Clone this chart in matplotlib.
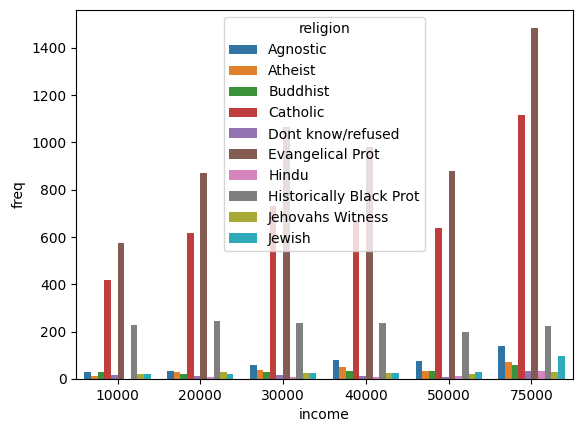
import pandas as pd
import matplotlib
matplotlib.use("Agg")
import matplotlib.pyplot as plt
import seaborn as sns

incomes = ["10000", "20000", "30000", "40000", "50000", "75000"]
religions = ["Agnostic", "Atheist", "Buddhist", "Catholic", "Dont know/refused",
             "Evangelical Prot", "Hindu", "Historically Black Prot",
             "Jehovahs Witness", "Jewish"]

agnostic = [27, 34, 60, 81, 76, 137]
atheist = [12, 27, 37, 52, 35, 70]
buddhist = [27, 21, 30, 34, 33, 58]
catholic = [418, 617, 732, 670, 638, 1116]
dont_know = [15, 14, 15, 11, 10, 35]
evangelical = [575, 869, 1064, 982, 881, 1486]
hindu = [1, 9, 7, 9, 11, 34]
black_prot = [228, 244, 236, 238, 197, 223]
jehovah = [20, 27, 24, 24, 21, 30]
jewish = [19, 19, 25, 25, 30, 95]

series = [agnostic, atheist, buddhist, catholic, dont_know,
          evangelical, hindu, black_prot, jehovah, jewish]

rows = []
for rel, vals in zip(religions, series):
    for inc, v in zip(incomes, vals):
        rows.append({"religion": rel, "income": inc, "freq": v})
df = pd.DataFrame(rows)

fig, ax = plt.subplots(figsize=(5.81, 4.33), dpi=100)
fig.subplots_adjust(left=0.131, right=0.986, top=0.977, bottom=0.125)
sns.barplot(data=df, x="income", y="freq", hue="religion",
            order=incomes, hue_order=religions, ax=ax)
sns.move_legend(ax, "upper center", title="religion")
fig.savefig("out.png", dpi=100)
